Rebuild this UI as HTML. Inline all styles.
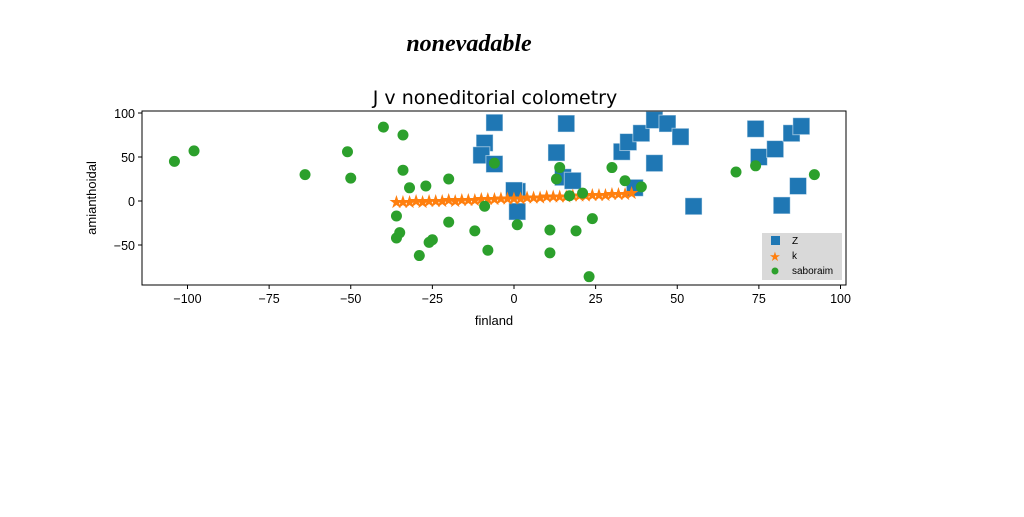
<!DOCTYPE html>
<html><head><meta charset="utf-8"><style>
body{margin:0;background:#fff;width:1024px;height:512px;overflow:hidden;font-family:"Liberation Sans",sans-serif}
</style></head><body>
<svg id="chart" width="1024" height="512">
<text x="469" y="51" text-anchor="middle" font-size="24" font-style="italic" font-weight="bold" font-family="'Liberation Serif',serif">nonevadable</text>
<text x="495" y="104" text-anchor="middle" font-size="19" font-family="'DejaVu Sans',sans-serif">J v noneditorial colometry</text>
<g id="marks"></g>
<rect x="142" y="111" width="704" height="174" fill="none" stroke="#000" stroke-width="1"/>
<g id="axes"></g>
<text x="494" y="325" text-anchor="middle" font-size="13">finland</text>
<text x="96" y="198" text-anchor="middle" font-size="13" transform="rotate(-90 96 198)">amianthoidal</text>
<g>
<rect x="762" y="233" width="80" height="47" fill="#d9d9d9"/>
<rect x="771" y="236" width="9" height="9" fill="#1f77b4"/>
<text x="792" y="244" font-size="10">Z</text>
<text x="775" y="261" text-anchor="middle" font-size="13" fill="#ff7f0e">★</text>
<text x="792" y="259" font-size="10">k</text>
<circle cx="775" cy="271" r="3.5" fill="#2ca02c"/>
<text x="792" y="274" font-size="10">saboraim</text>
</g>
</svg>
<script>
const xTicks=[-100,-75,-50,-25,0,25,50,75,100];
const yTicks=[-50,0,50,100];
const zX=[16,13,15,18,1,1,-6,-9,-10,-6,0,33,35,39,43,47,51,43,37,55,74,75,80,85,88,87,82];
const zY=[88,55,27,23,11,-12,89,66,52,42,12,56,67,77,92,88,73,43,15,-6,82,50,59,77,85,17,-5];
const kX=[-36,-34,-32,-30,-28,-26,-24,-22,-20,-18,-16,-14,-12,-10,-8,-6,-4,-2,0,2,4,6,8,10,12,14,16,18,20,22,24,26,28,30,32,34,36];
const kY=[-1,-1,-1,0,-1,0,0,0,1,0,1,1,1,2,2,2,3,3,3,3,4,4,4,5,5,5,5,6,6,6,7,7,7,8,8,8,9];
const sX=[-104,-98,-64,-51,-50,-40,-34,-34,-32,-27,-20,-36,-36,-35,-29,-26,-25,-20,-12,-9,-8,-6,1,11,11,14,13,17,21,19,24,23,30,34,39,68,74,92];
const sY=[45,57,30,56,26,84,75,35,15,17,25,-17,-42,-36,-62,-47,-44,-24,-34,-6,-56,43,-27,-33,-59,38,25,6,9,-34,-20,-86,38,23,16,33,40,30];
const X=v=>514+v*3.265, Y=v=>201-v*0.88;
const NS='http://www.w3.org/2000/svg';
const marks=document.getElementById('marks'), axes=document.getElementById('axes');
function mk(t,a,p){const e=document.createElementNS(NS,t);for(const k in a)e.setAttribute(k,a[k]);p.appendChild(e);return e;}
xTicks.forEach(v=>{
 const l=mk('line',{x1:X(v),x2:X(v),y1:285,y2:289,stroke:'#000'},axes);
 
 
 const t=mk('text',{x:X(v),y:303,'text-anchor':'middle','font-size':12.5},axes);
 t.textContent=v<0?'\u2212'+(-v):v;
 
 
});
yTicks.forEach(v=>{
 const l=mk('line',{x1:138,x2:142,y1:Y(v),y2:Y(v),stroke:'#000'},axes);
 
 
 const t=mk('text',{x:135,y:Y(v)+5,'text-anchor':'end','font-size':12.5},axes);
 t.textContent=v<0?'\u2212'+(-v):v;
 
 
});
zX.forEach((v,i)=>{
 const r=mk('rect',{x:X(v)-8.5,y:Y(zY[i])-8.5,width:17,height:17,fill:'#1f77b4',stroke:'#fff','stroke-opacity':0.5},marks);
 
 
});
kX.forEach((v,i)=>{
 const t=mk('text',{x:X(v),y:Y(kY[i])+6,'text-anchor':'middle','font-size':18,fill:'#ff7f0e'},marks);
 t.textContent='★';
 
 
});
sX.forEach((v,i)=>{
 const c=mk('circle',{cx:X(v),cy:Y(sY[i]),r:5.5,fill:'#2ca02c'},marks);
 
 
});
</script>
</body></html>
